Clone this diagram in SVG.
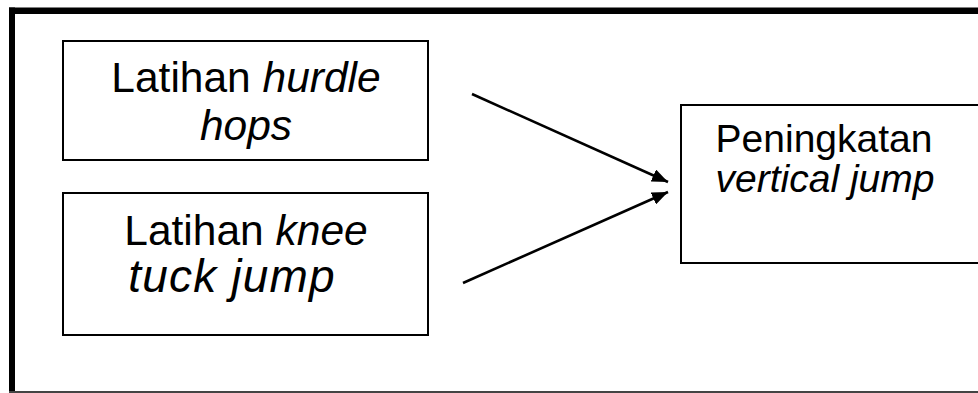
<svg xmlns="http://www.w3.org/2000/svg" width="978" height="393" viewBox="0 0 978 393">
  <style>
    .box { fill: #ffffff; stroke: #000000; stroke-width: 2; }
    .lbl { font-family: "Liberation Sans", Arial, sans-serif; fill: #000000; text-anchor: middle; }
    .big { font-size: 42.5px; }
    .mid { font-size: 39px; }
    .it { font-style: italic; }
    .conn { stroke: #000000; stroke-width: 2.6; fill: none; marker-end: url(#head); }
  </style>
  <defs>
    <marker id="head" viewBox="0 0 16 13" refX="16" refY="6.5" markerWidth="16" markerHeight="13" markerUnits="userSpaceOnUse" orient="auto">
      <path d="M0,0 L16,6.5 L0,13 z" fill="#000000"/>
    </marker>
  </defs>

  <rect width="978" height="393" fill="#ffffff"/>

  <!-- page frame -->
  <g id="frame">
    <line x1="9" y1="10.75" x2="978" y2="10.75" stroke="#000000" stroke-width="6.5"/>
    <line x1="12" y1="7.5" x2="12" y2="393" stroke="#000000" stroke-width="6"/>
    <line x1="9" y1="392" x2="978" y2="392" stroke="#444444" stroke-width="2"/>
  </g>

  <g id="node-hurdle">
    <rect class="box" x="63" y="41" width="365" height="119"/>
    <text class="lbl big" x="246" y="92">Latihan <tspan class="it">hurdle</tspan></text>
    <text class="lbl big it" x="246" y="140">hops</text>
  </g>

  <g id="node-knee">
    <rect class="box" x="63" y="193" width="365" height="142"/>
    <text class="lbl big" x="246" y="245">Latihan <tspan class="it">knee</tspan></text>
    <text class="lbl it" x="232" y="292" font-size="46" letter-spacing="1.2">tuck jump</text>
  </g>

  <g id="node-result">
    <rect class="box" x="681" y="105" width="310" height="158"/>
    <text class="lbl mid" x="824" y="152">Peningkatan</text>
    <text class="lbl mid it" x="825" y="192">vertical jump</text>
  </g>

  <g id="connectors">
    <line class="conn" x1="472" y1="94" x2="668" y2="182"/>
    <line class="conn" x1="463" y1="283" x2="668" y2="192"/>
  </g>
</svg>
